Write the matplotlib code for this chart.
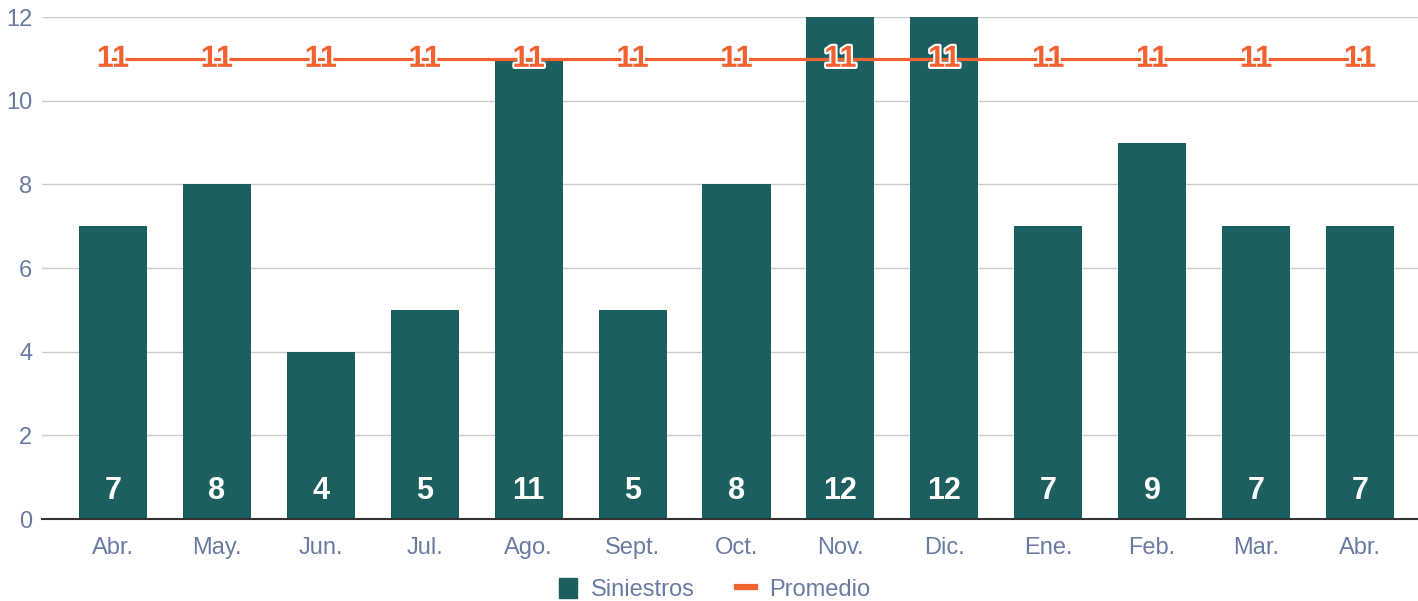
import matplotlib.pyplot as plt
import matplotlib.patheffects as pe
from matplotlib.lines import Line2D
from matplotlib.patches import Patch

plt.rcParams['font.family'] = ['Liberation Sans', 'DejaVu Sans']

# datos
meses = ['Abr.', 'May.', 'Jun.', 'Jul.', 'Ago.', 'Sept.', 'Oct.', 'Nov.', 'Dic.',
         'Ene.', 'Feb.', 'Mar.', 'Abr.']
siniestros = [7, 8, 4, 5, 11, 5, 8, 12, 12, 7, 9, 7, 7]
promedio = [11, 11, 11, 11, 11, 11, 11, 11, 11, 11, 11, 11, 11]
yticks = [0, 2, 4, 6, 8, 10, 12]

verde = '#1d5f5f'
naranja = '#f26130'
texto = '#6a7ba2'

fig = plt.figure(figsize=(14.18, 6.01), dpi=100)
ax = fig.add_axes([0.0296, 0.1364, 0.9704, 0.8353])

x = list(range(len(meses)))
ax.bar(x, siniestros, width=0.655, color=verde, zorder=3)
ax.plot(x, promedio, color=naranja, linewidth=2.3, zorder=4)

# etiquetas de barras
for i, v in enumerate(siniestros):
    ax.text(i, 0.68, str(v), ha='center', va='center', color='white',
            fontsize=22, fontweight='bold', zorder=5)

# etiquetas del promedio
for i, v in enumerate(promedio):
    ax.text(i, v, str(v), ha='center', va='center', color=naranja,
            fontsize=22, fontweight='bold', zorder=6,
            path_effects=[pe.withStroke(linewidth=3, foreground='white')])

ax.set_xlim(-0.683, 12.558)
ax.set_ylim(0, 12)
ax.set_yticks(yticks)
ax.set_xticks(x)
ax.set_xticklabels(meses)
ax.tick_params(axis='both', length=0, labelsize=17, labelcolor=texto)
ax.tick_params(axis='x', pad=13)
ax.tick_params(axis='y', pad=7)
ax.grid(axis='y', color='#cccccc', linewidth=1, zorder=0)
for s in ['top', 'right', 'left']:
    ax.spines[s].set_visible(False)
ax.spines['bottom'].set_color('#333333')
ax.spines['bottom'].set_linewidth(1.5)
ax.spines['bottom'].set_zorder(4)

handles = [Patch(color=verde, label='Siniestros'),
           Line2D([0], [0], color=naranja, linewidth=4.5, label='Promedio')]
fig.legend(handles=handles, loc='lower center', bbox_to_anchor=(0.504, -0.036),
           ncol=2, frameon=False, fontsize=17, labelcolor=texto,
           handlelength=0.75, handleheight=0.9, handletextpad=0.6,
           columnspacing=1.8)

plt.savefig('out.png', dpi=100)
